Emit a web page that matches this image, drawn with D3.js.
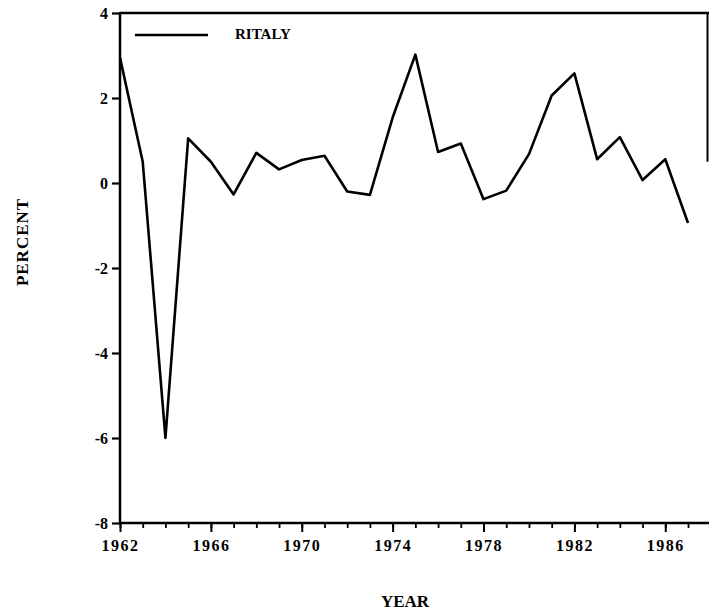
<!DOCTYPE html>
<html>
<head>
<meta charset="utf-8">
<script src="https://cdn.jsdelivr.net/npm/d3@7"></script>
<style>
  body { margin: 0; background: #fff; }
</style>
</head>
<body>
<div id="chart"></div>
<script>
// values
const years = [1962, 1963, 1964, 1965, 1966, 1967, 1968, 1969, 1970, 1971, 1972, 1973, 1974,
  1975, 1976, 1977, 1978, 1979, 1980, 1981, 1982, 1983, 1984, 1985, 1986, 1987];
const ritaly = [2.95, 0.5, -6.0, 1.05, 0.5, -0.27, 0.71, 0.32, 0.54, 0.64, -0.2, -0.28, 1.54,
  3.02, 0.73, 0.93, -0.38, -0.18, 0.68, 2.06, 2.58, 0.56, 1.08, 0.07, 0.56, -0.94];
const yTicks = [-8, -6, -4, -2, 0, 2, 4];
const xTicks = [1962, 1966, 1970, 1974, 1978, 1982, 1986];

const width = 709, height = 615;
const plotLeft = 120, plotTop = 13, plotBottom = 523;
const serif = '"Liberation Serif", "Times New Roman", "DejaVu Serif", serif';

const svg = d3.select("#chart")
  .append("svg")
  .attr("width", width)
  .attr("height", height);

const x = d3.scaleLinear().domain([1962, 1987]).range([plotLeft, 688]);
const y = d3.scaleLinear().domain([-8, 4]).range([plotBottom, plotTop]);

// y axis (plain hyphen for negatives, as printed)
const yAxis = d3.axisLeft(y).tickValues(yTicks).tickSize(8).tickPadding(4)
  .tickFormat(d => String(d));
const gy = svg.append("g")
  .attr("transform", "translate(" + plotLeft + ",0)")
  .call(yAxis);
gy.select(".domain").attr("stroke-width", 2.5).attr("d", "M0," + (plotTop - 1) + "V" + (plotBottom + 1));
gy.selectAll(".tick line").attr("stroke-width", 2.2);
gy.selectAll(".tick text")
  .style("font-family", serif).style("font-weight", "bold")
  .style("font-size", "16px").attr("dy", "0.35em");

// x axis, minor yearly ticks then labelled ticks
const gxMinor = svg.append("g")
  .attr("transform", "translate(0," + plotBottom + ")")
  .call(d3.axisBottom(x).tickValues(d3.range(1962, 1989)).tickSize(5).tickFormat(""));
gxMinor.select(".domain").remove();
gxMinor.selectAll(".tick line").attr("stroke-width", 1.8);

const gx = svg.append("g")
  .attr("transform", "translate(0," + plotBottom + ")")
  .call(d3.axisBottom(x).tickValues(xTicks).tickSize(9).tickPadding(8).tickFormat(d => String(d)));
gx.select(".domain").attr("stroke-width", 2.5).attr("d", "M" + (plotLeft - 1) + ",0H" + width);
gx.selectAll(".tick line").attr("stroke-width", 2);
gx.selectAll(".tick text")
  .style("font-family", serif).style("font-weight", "bold")
  .style("font-size", "16px").style("letter-spacing", "1.5px");

// frame top and the visible part of the right edge
svg.append("line")
  .attr("x1", plotLeft).attr("x2", width).attr("y1", plotTop).attr("y2", plotTop)
  .attr("stroke", "#000").attr("stroke-width", 2.5);
svg.append("line")
  .attr("x1", 707.5).attr("x2", 707.5).attr("y1", plotTop).attr("y2", y(0.5))
  .attr("stroke", "#000").attr("stroke-width", 2);

// series
const line = d3.line().x((d, i) => x(years[i])).y(d => y(d));
svg.append("path")
  .datum(ritaly)
  .attr("d", line)
  .attr("fill", "none")
  .attr("stroke", "#000")
  .attr("stroke-width", 2.6)
  .attr("stroke-linejoin", "round");

// legend
svg.append("line")
  .attr("x1", 135).attr("x2", 208).attr("y1", 35).attr("y2", 35)
  .attr("stroke", "#000").attr("stroke-width", 2.6);
svg.append("text")
  .attr("x", 235).attr("y", 39)
  .style("font-family", serif).style("font-weight", "bold")
  .style("font-size", "15px")
  .text("RITALY");

// axis titles
svg.append("text")
  .attr("x", 405).attr("y", 607)
  .attr("text-anchor", "middle")
  .style("font-family", serif).style("font-weight", "bold")
  .style("font-size", "17px")
  .text("YEAR");
svg.append("text")
  .attr("transform", "translate(28,242) rotate(-90)")
  .attr("text-anchor", "middle")
  .style("font-family", serif).style("font-weight", "bold")
  .style("font-size", "17px")
  .style("letter-spacing", "1px")
  .text("PERCENT");
</script>
</body>
</html>
